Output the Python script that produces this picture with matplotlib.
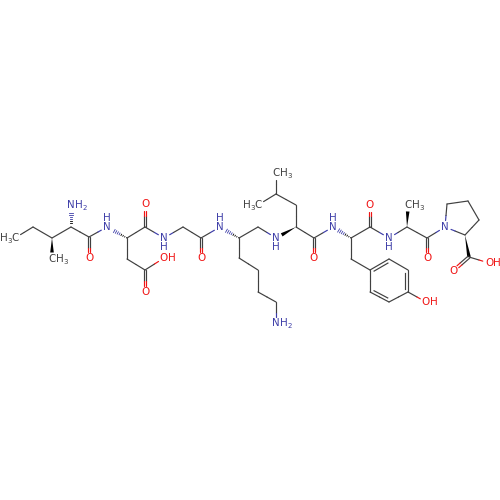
import numpy as np
import matplotlib
matplotlib.use('Agg')
import matplotlib.pyplot as plt

# atom positions (pixels), label: element group or '' for plain carbon
atom_names = ['me1','et','cb','me2','ca1','n1','c1','o1','n2','ca2','c2','o2','cb2','cg2','o3','oh1',
              'n3','ch2g','c3','o4','n4','ca3','ch2k','n5','ca4','cb4','cg4','me3','me4','c4','o5',
              'k1','k2','k3','k4','n6','n7','ca5','c5','o6','cb5','r1','r2','r3','r4','r5','r6','oh2',
              'n8','ca6','me5','c6','o7','n9','p1','p2','p3','ca7','c7','o8','oh3']
atom_x = [15,33,52,52,71,71,89,89,107,127,145,145,127,145,145,164,
          164,183,201,201,220,239,258,276,296,296,276,276,258,314,314,
          239,258,258,276,276,333,351,370,370,351,370,389,408,408,389,370,426,
          389,407,408,427,427,445,447,468,479,465,469,453,489]
atom_y = [238,227,238,259,227,205,237,258,227,238,227,204,259,270,292,258,
          238,227,238,258,227,238,227,238,227,205,194,173,205,238,258,
          258,270,292,302,323,227,238,227,205,259,270,259,270,292,302,292,302,
          238,227,205,238,258,227,204,201,220,235,257,271,263]
atom_labels = ['H3C','','','CH3','','NH2','','O','NH^','','','O','','','O','OH',
               'NHv','','','O','NH^','','','NHv','','','','CH3','H3C','','O',
               '','','','','NH2','NH^','','','O','','','','','','','','OH',
               'NHv','','CH3','','O','N','','','','','','O','OH']

single_bonds = [('me1','et'),('et','cb'),('cb','ca1'),('ca1','c1'),('c1','n2'),('ca2','c2'),('c2','n3'),
                ('ca2','cb2'),('cb2','cg2'),('cg2','oh1'),('n3','ch2g'),('ch2g','c3'),('c3','n4'),('ca3','ch2k'),
                ('ch2k','n5'),('ca4','cb4'),('cb4','cg4'),('cg4','me3'),('cg4','me4'),('ca4','c4'),('c4','n7'),
                ('ca3','k1'),('k1','k2'),('k2','k3'),('k3','k4'),('k4','n6'),('ca5','c5'),('c5','n8'),('ca5','cb5'),
                ('cb5','r1'),('r4','oh2'),('n8','ca6'),('ca6','c6'),('c6','n9'),('n9','p1'),('p1','p2'),('p2','p3'),
                ('p3','ca7'),('ca7','n9'),('c7','oh3')]
double_bonds = [('c1','o1'),('c2','o2'),('cg2','o3'),('c3','o4'),('c4','o5'),('c5','o6'),('c6','o7'),('c7','o8')]
ring_doubles = [('r1','r2'),('r3','r4'),('r5','r6')]
ring_singles = [('r2','r3'),('r4','r5'),('r6','r1')]
wedges = [('cb','me2'),('ca4','n5'),('ca6','me5'),('ca7','c7')]
hashes = [('ca1','n1'),('ca2','n2'),('ca3','n4'),('ca5','n7')]

BOND = '#404040'
N_COL = '#3d3da8'
O_COL = '#f01414'
FS = 7.4
LW = 0.85

pos = {n: np.array([x, y], float) for n, x, y in zip(atom_names, atom_x, atom_y)}
lab = dict(zip(atom_names, atom_labels))

def col(name):
    l = lab[name]
    if l.startswith('N'):
        return N_COL
    if l.startswith('O'):
        return O_COL
    return BOND

def gap(name):
    return 6.5 if lab[name] else 0

fig = plt.figure(figsize=(5, 5), dpi=100)
ax = fig.add_axes([0, 0, 1, 1])
ax.set_xlim(0, 500)
ax.set_ylim(500, 0)
ax.axis('off')

def seg(a, b, off=0.0):
    p, q = pos[a], pos[b]
    d = (q - p) / np.linalg.norm(q - p)
    nrm = np.array([-d[1], d[0]])
    s = p + d * gap(a) + nrm * off
    e = q - d * gap(b) + nrm * off
    m = (p + q) / 2 + nrm * off
    ax.plot([s[0], m[0]], [s[1], m[1]], color=col(a), lw=LW, solid_capstyle='round')
    ax.plot([m[0], e[0]], [m[1], e[1]], color=col(b), lw=LW, solid_capstyle='round')

for a, b in single_bonds + ring_singles:
    seg(a, b)
for a, b in double_bonds:
    seg(a, b, 1.3)
    seg(a, b, -1.3)

ring_mid = np.mean([pos[r] for r in ['r1','r2','r3','r4','r5','r6']], axis=0)
for a, b in ring_doubles:
    seg(a, b)
    p, q = pos[a], pos[b]
    d = (q - p) / np.linalg.norm(q - p)
    nrm = np.array([-d[1], d[0]])
    if np.dot(ring_mid - p, nrm) < 0:
        nrm = -nrm
    s = p + d * 3 + nrm * 3
    e = q - d * 3 + nrm * 3
    ax.plot([s[0], e[0]], [s[1], e[1]], color=BOND, lw=LW)

for a, b in wedges:
    p, q = pos[a], pos[b]
    d = (q - p) / np.linalg.norm(q - p)
    nrm = np.array([-d[1], d[0]])
    e = q - d * gap(b)
    ax.fill([p[0], e[0] + nrm[0] * 1.8, e[0] - nrm[0] * 1.8],
            [p[1], e[1] + nrm[1] * 1.8, e[1] - nrm[1] * 1.8], color='black', lw=0)

for a, b in hashes:
    p, q = pos[a], pos[b]
    d = (q - p) / np.linalg.norm(q - p)
    nrm = np.array([-d[1], d[0]])
    L = np.linalg.norm(q - p) - gap(b)
    for t in np.arange(0.5, L, 2.0):
        c = p + d * t
        w = 1.9 * t / L
        ax.plot([c[0] - nrm[0] * w, c[0] + nrm[0] * w], [c[1] - nrm[1] * w, c[1] + nrm[1] * w],
                color='black' if t < L / 2 else N_COL, lw=0.6)

def put(x, y, s, color, size=FS):
    ax.text(x, y, s, color=color, fontsize=size, ha='center', va='center', family='DejaVu Sans')

for n in atom_names:
    l = lab[n]
    x, y = pos[n]
    if l == 'H3C':
        put(x - 11, y, 'H', BOND)
        put(x - 5, y + 3, '3', BOND, 5)
        put(x, y, 'C', BOND)
    elif l == 'CH3':
        put(x, y, 'C', BOND)
        put(x + 8, y, 'H', BOND)
        put(x + 14, y + 3, '3', BOND, 5)
    elif l == 'NH2':
        put(x, y, 'N', N_COL)
        put(x + 8, y, 'H', N_COL)
        put(x + 14, y + 3, '2', N_COL, 5)
    elif l == 'NH^':
        put(x, y, 'N', N_COL)
        put(x, y - 9, 'H', N_COL)
    elif l == 'NHv':
        put(x, y, 'N', N_COL)
        put(x, y + 9, 'H', N_COL)
    elif l == 'N':
        put(x, y, 'N', N_COL)
    elif l == 'O':
        put(x, y, 'O', O_COL)
    elif l == 'OH':
        put(x, y, 'O', O_COL)
        put(x + 8, y, 'H', O_COL)

fig.savefig('out.png', dpi=100)
